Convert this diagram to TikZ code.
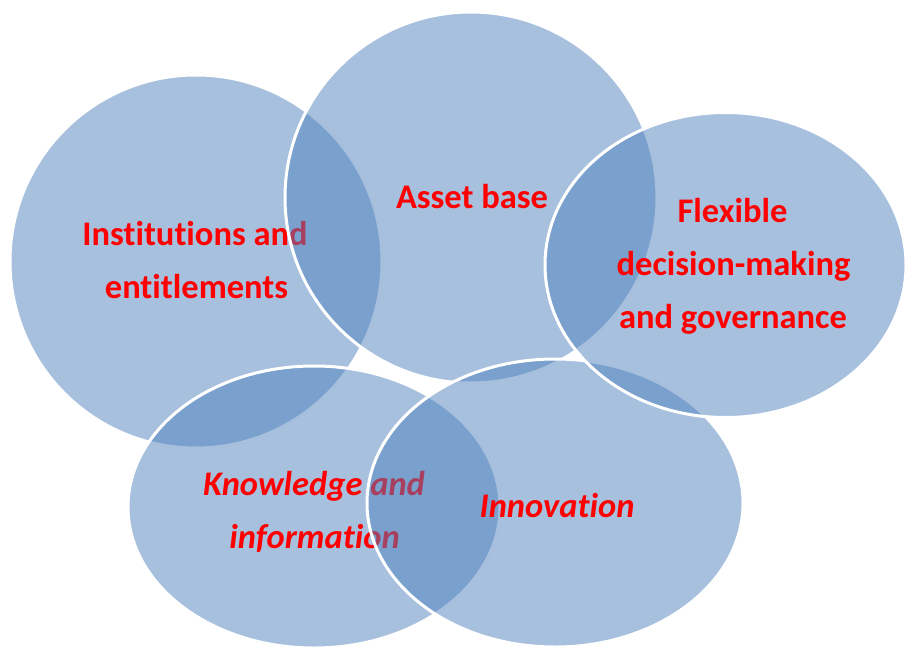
\documentclass[tikz,border=0pt]{standalone}
\usepackage{fontspec}
\setmainfont{Carlito}[Ligatures=NoCommon]
\usetikzlibrary{shapes.geometric}
\definecolor{accentblue}{RGB}{79,129,189}
\definecolor{txtred}{RGB}{255,0,0}
\begin{document}
\begin{tikzpicture}[x=1pt,y=-1pt,
  bubble/.style={ellipse, draw=white, line width=3pt, fill=accentblue,
    fill opacity=0.5, draw opacity=1, inner sep=0pt, outer sep=0pt},
  lbl/.style={anchor=base, text=txtred, inner sep=0pt,
    font=\fontsize{34.5}{40}\selectfont\bfseries},
  ilbl/.style={lbl, font=\fontsize{34.5}{40}\selectfont\bfseries\itshape}]
\useasboundingbox (0,0) rectangle (905,646);
\clip (0,0) rectangle (905,646);
% Institutions
\node[bubble, minimum width=372pt, minimum height=373pt] (inst) at (196,261.5) {};
\node[lbl] (inst1) at (195,245) {Institutions and};
\node[lbl] (inst2) at (196.5,298) {entitlements};
% Asset base
\node[bubble, minimum width=372pt, minimum height=371pt] (asset) at (471,197.5) {};
\node[lbl] (asset1) at (472,208) {Asset base};
% Knowledge
\node[bubble, minimum width=372pt, minimum height=282pt] (know) at (314,507) {};
\node[ilbl] (know1) at (314,495) {Knowledge and};
\node[ilbl] (know2) at (314.5,548) {information};
% Innovation
\node[bubble, minimum width=376pt, minimum height=288pt] (innov) at (555,503) {};
\node[ilbl] (innov1) at (557,517) {Innovation};
% Flexible
\node[bubble, minimum width=361pt, minimum height=305pt] (flex) at (725.5,265) {};
\node[lbl] (flex1) at (732.5,222) {Flexible};
\node[lbl] (flex2) at (733.5,275) {decision-making};
\node[lbl] (flex3) at (733,328) {and governance};
\end{tikzpicture}
\end{document}
